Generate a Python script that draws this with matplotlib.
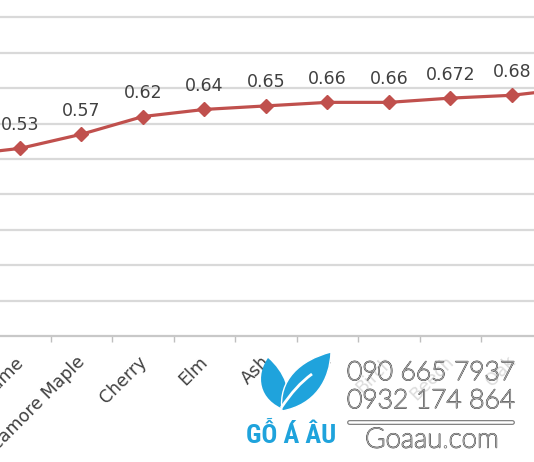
import matplotlib
matplotlib.use("Agg")
import matplotlib.pyplot as plt
import matplotlib.patheffects as pe
import matplotlib.transforms as mtransforms
from matplotlib.path import Path
from matplotlib.patches import PathPatch, Rectangle
import numpy as np

# wood species and their values (first and last are cut off by the crop)
species = ["Walnut", "Lime", "Sycamore Maple", "Cherry", "Elm", "Ash",
           "Teak", "Birch", "Beech", "Oak", "Ipe"]
values = [0.51, 0.53, 0.57, 0.62, 0.64, 0.65, 0.66, 0.66, 0.672, 0.68, 0.70]
point_labels = ["0.51", "0.53", "0.57", "0.62", "0.64", "0.65", "0.66", "0.66",
                "0.672", "0.68", "0.70"]

W, H = 534, 462
fig = plt.figure(figsize=(W / 100, H / 100), dpi=100)

# the picture is a crop of a wider chart, so the axes spill past the canvas
ax = fig.add_axes([-72.25 / W, 126 / H, 676.5 / W, 354 / H])
x = np.arange(len(species))
ax.plot(x, values, color="#c0504d", lw=2.3, marker="D", ms=7,
        markerfacecolor="#c0504d", markeredgecolor="#c0504d", zorder=3)
for xi, v, s in zip(x, values, point_labels):
    ax.annotate(s, (xi, v), xytext=(0, 17), textcoords="offset points",
                ha="center", va="center", fontsize=12.5, color="#404040")

ax.set_xlim(-0.5, len(species) - 0.5)
ax.set_ylim(0, 1.0)
ax.set_yticks(np.arange(0.1, 1.01, 0.1))
ax.yaxis.grid(True, color="#d9d9d9", lw=1.6)
ax.tick_params(axis="y", left=False, labelleft=False)
ax.set_axisbelow(True)
for side in ["left", "right", "top"]:
    ax.spines[side].set_visible(False)
ax.spines["bottom"].set_color("#c8c8c8")
ax.spines["bottom"].set_linewidth(1.6)

ax.set_xticks(x)
ax.set_xticklabels(species, rotation=45, ha="right", rotation_mode="anchor",
                   fontsize=12.5, color="#404040")
ax.tick_params(axis="x", which="major", length=0, pad=12)
shift = mtransforms.ScaledTranslation(-4 / 72, 0, fig.dpi_scale_trans)
for lab in ax.get_xticklabels():
    lab.set_transform(lab.get_transform() + shift)
ax.set_xticks(x[:-1] + 0.5, minor=True)
ax.tick_params(axis="x", which="minor", length=4, color="#bfbfbf", width=1)

# watermark overlay in pixel coordinates
ov = fig.add_axes([0, 0, 1, 1], zorder=10)
ov.set_xlim(0, W)
ov.set_ylim(H, 0)
ov.axis("off")

ov.add_patch(Rectangle((340, 350), 190, 108, fc="white", ec="none", alpha=0.82))

blue = "#1fa3dc"
left_leaf = Path([(286, 410), (258, 400), (256, 375), (268, 358),
                  (284, 372), (292, 392), (286, 410)],
                 [Path.MOVETO, Path.CURVE4, Path.CURVE4, Path.CURVE4,
                  Path.CURVE4, Path.CURVE4, Path.CURVE4])
right_leaf = Path([(282, 411), (278, 380), (300, 360), (331, 352),
                   (330, 380), (315, 405), (282, 411)],
                  [Path.MOVETO, Path.CURVE4, Path.CURVE4, Path.CURVE4,
                   Path.CURVE4, Path.CURVE4, Path.CURVE4])
vein = Path([(281, 408), (292, 392), (300, 383), (312, 374)],
            [Path.MOVETO, Path.CURVE4, Path.CURVE4, Path.CURVE4])
ov.add_patch(PathPatch(left_leaf, fc=blue, ec="none"))
ov.add_patch(PathPatch(right_leaf, fc=blue, ec="white", lw=1))
ov.add_patch(PathPatch(vein, fc="none", ec="white", lw=2))

ov.text(291, 435, "GỖ Á ÂU", color=blue, fontsize=19, fontweight="bold",
        fontstretch="condensed",
        family=["Liberation Sans Narrow", "DejaVu Sans Condensed", "Roboto Condensed", "DejaVu Sans"],
        ha="center", va="center")

outline = [pe.Stroke(linewidth=1.1, foreground="#707070"), pe.Normal()]
for txt, yy in [("090 665 7937", 373), ("0932 174 864", 401)]:
    ov.text(347, yy, txt, color="white", fontsize=19, family=["Lato", "DejaVu Sans"],
            fontweight="light", ha="left", va="center", path_effects=outline)
ov.plot([349, 512], [422, 422], color="#7a7a7a", lw=3.5, solid_capstyle="round")
ov.plot([349, 512], [422, 422], color="white", lw=1.8, solid_capstyle="round")
ov.text(432, 440, "Goaau.com", color="white", fontsize=20, family=["Lato", "DejaVu Sans"],
        fontweight="light", ha="center", va="center", path_effects=outline)

fig.savefig("out.png", dpi=100)
